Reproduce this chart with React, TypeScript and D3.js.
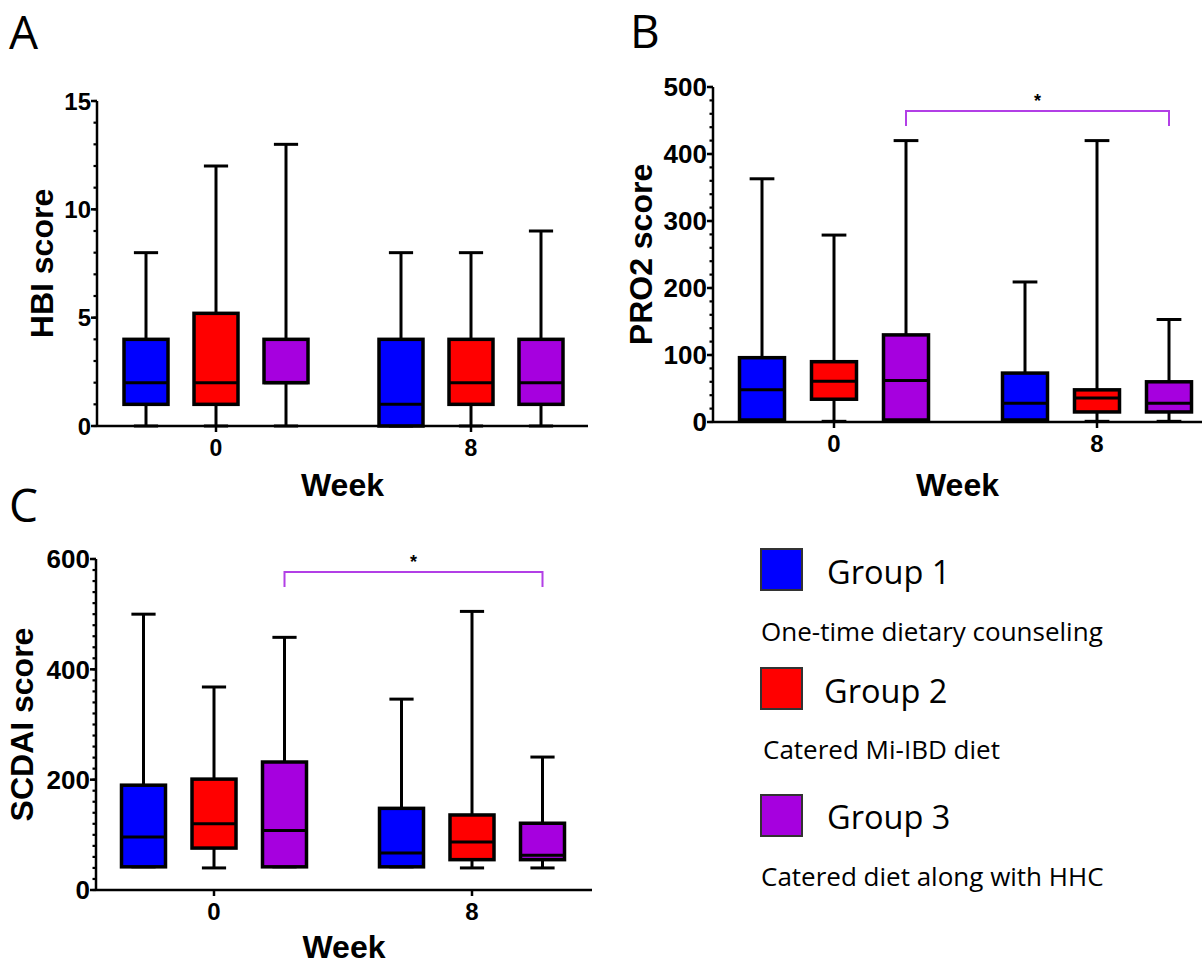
import React from "react";
import * as d3 from "d3";

// ---------- data ----------
const weeks = ["0", "8"];
const groups = ["Group 1", "Group 2", "Group 3"];
const groupColors = ["#0000FF", "#FF0000", "#A600DF"];
const groupDescriptions = [
  "One-time dietary counseling",
  "Catered Mi-IBD diet",
  "Catered diet along with HHC",
];

// order: week0 g1,g2,g3, week8 g1,g2,g3
const hbiMin = [0, 0, 0, 0, 0, 0];
const hbiQ1 = [1, 1, 2, 0, 1, 1];
const hbiMedian = [2, 2, 2, 1, 2, 2];
const hbiQ3 = [4, 5.2, 4, 4, 4, 4];
const hbiMax = [8, 12, 13, 8, 8, 9];
const hbiTicks = [0, 5, 10, 15];

const pro2Min = [3, 1, 3, 3, 1, 1];
const pro2Q1 = [3, 34, 3, 3, 15, 15];
const pro2Median = [48, 61, 62, 28, 36, 28];
const pro2Q3 = [96, 90, 130, 73, 48, 60];
const pro2Max = [363, 279, 420, 209, 420, 153];
const pro2Ticks = [0, 100, 200, 300, 400, 500];

const scdaiMin = [42, 40, 42, 42, 40, 40];
const scdaiQ1 = [42, 76, 42, 42, 55, 55];
const scdaiMedian = [96, 120, 108, 67, 87, 63];
const scdaiQ3 = [190, 201, 232, 148, 136, 121];
const scdaiMax = [500, 368, 458, 346, 505, 241];
const scdaiTicks = [0, 200, 400, 600];

// significance: [from index, to index, label]
const pro2Sig = [2, 5, "*"] as const;
const scdaiSig = [2, 5, "*"] as const;

const BOLD = "'Liberation Sans', Arial, sans-serif";
const SANS = "'Open Sans', 'Noto Sans', sans-serif";

type PanelProps = {
  letter: string;
  letterX: number;
  letterY: number;
  yLabel: string;
  yMax: number;
  majorTicks: number[];
  minorStep: number;
  mins: number[];
  q1s: number[];
  meds: number[];
  q3s: number[];
  maxs: number[];
  left: number;
  right: number;
  top: number;
  bottom: number;
  weekCenters: [number, number];
  groupSpacing: number;
  boxWidth: number;
  yLabelX: number;
  tickFont: number;
  xTickFont: number;
  weekBaseline: number;
  sig?: readonly [number, number, string];
  sigY?: number;
};

function Panel(p: PanelProps) {
  const y = d3.scaleLinear().domain([0, p.yMax]).range([p.bottom, p.top]);
  const xw = d3.scalePoint<string>().domain(weeks).range(p.weekCenters);
  const xg = d3
    .scaleBand<string>()
    .domain(groups)
    .range([-1.5 * p.groupSpacing, 1.5 * p.groupSpacing]);
  const cx = (i: number) => {
    const w = weeks[Math.floor(i / 3)];
    const g = groups[i % 3];
    return (xw(w) as number) + (xg(g) as number) + xg.bandwidth() / 2;
  };
  const minor = d3.range(0, p.yMax + 1e-9, p.minorStep);
  const capW = p.boxWidth * 0.55;
  const bw = p.boxWidth;
  const items = d3.range(6);
  return (
    <g>
      <text x={p.letterX} y={p.letterY} fontFamily={SANS} fontSize={46} fill="#000">
        {p.letter}
      </text>
      {/* boxes */}
      {items.map((i) => {
        const c = cx(i);
        return (
          <g key={i}>
            <line x1={c} x2={c} y1={y(p.maxs[i])} y2={y(p.q3s[i])} stroke="#000" strokeWidth={3} />
            <line x1={c} x2={c} y1={y(p.q1s[i])} y2={y(p.mins[i])} stroke="#000" strokeWidth={3} />
            <line x1={c - capW / 2} x2={c + capW / 2} y1={y(p.maxs[i])} y2={y(p.maxs[i])} stroke="#000" strokeWidth={3} />
            <line x1={c - capW / 2} x2={c + capW / 2} y1={y(p.mins[i])} y2={y(p.mins[i])} stroke="#000" strokeWidth={3} />
            <rect
              x={c - bw / 2}
              y={y(p.q3s[i])}
              width={bw}
              height={y(p.q1s[i]) - y(p.q3s[i])}
              fill={groupColors[i % 3]}
              stroke="#000"
              strokeWidth={3.5}
            />
            <line x1={c - bw / 2} x2={c + bw / 2} y1={y(p.meds[i])} y2={y(p.meds[i])} stroke="#000" strokeWidth={3} />
          </g>
        );
      })}
      {/* y axis */}
      <line x1={p.left} x2={p.left} y1={p.top} y2={p.bottom} stroke="#000" strokeWidth={2.5} />
      {minor.map((v) => (
        <line key={"m" + v} x1={p.left - 3.5} x2={p.left} y1={y(v)} y2={y(v)} stroke="#000" strokeWidth={2.2} />
      ))}
      {p.majorTicks.map((v) => (
        <g key={"t" + v}>
          <line x1={p.left - 6} x2={p.left} y1={y(v)} y2={y(v)} stroke="#000" strokeWidth={2.5} />
          <text
            x={p.left - 6}
            y={y(v)}
            dy="0.36em"
            textAnchor="end"
            fontFamily={BOLD}
            fontWeight="bold"
            fontSize={p.tickFont}
          >
            {v}
          </text>
        </g>
      ))}
      <text
        transform={`translate(${p.yLabelX},${(p.top + p.bottom) / 2}) rotate(-90)`}
        textAnchor="middle"
        fontFamily={BOLD}
        fontWeight="bold"
        fontSize={32}
      >
        {p.yLabel}
      </text>
      {/* x axis */}
      <line x1={p.left} x2={p.right} y1={p.bottom} y2={p.bottom} stroke="#000" strokeWidth={2.5} />
      {weeks.map((w) => (
        <g key={w}>
          <line x1={xw(w)} x2={xw(w)} y1={p.bottom} y2={p.bottom + 6} stroke="#000" strokeWidth={2.5} />
          <text
            x={xw(w)}
            y={p.bottom + 30}
            textAnchor="middle"
            fontFamily={BOLD}
            fontWeight="bold"
            fontSize={p.xTickFont}
          >
            {w}
          </text>
        </g>
      ))}
      <text
        x={(p.left + p.right) / 2}
        y={p.weekBaseline}
        textAnchor="middle"
        fontFamily={BOLD}
        fontWeight="bold"
        fontSize={32}
      >
        Week
      </text>
      {p.sig && p.sigY !== undefined && (
        <g>
          <path
            d={`M${cx(p.sig[0])},${p.sigY + 15}V${p.sigY}H${cx(p.sig[1])}V${p.sigY + 15}`}
            fill="none"
            stroke="#B23FE6"
            strokeWidth={2}
          />
          <text
            x={(cx(p.sig[0]) + cx(p.sig[1])) / 2}
            y={p.sigY - 4}
            textAnchor="middle"
            fontFamily={BOLD}
            fontWeight="bold"
            fontSize={18}
          >
            {p.sig[2]}
          </text>
        </g>
      )}
    </g>
  );
}

function Legend() {
  const squareTops = [549, 668, 795];
  const labelBaselines = [584, 703, 829];
  const descBaselines = [641, 759, 886];
  return (
    <g>
      {groups.map((g, i) => (
        <g key={g}>
          <rect
            x={761}
            y={squareTops[i]}
            width={41}
            height={41}
            fill={groupColors[i]}
            stroke="#333"
            strokeWidth={2}
          />
          <text x={i === 1 ? 824 : 827} y={labelBaselines[i]} fontFamily={SANS} fontSize={32.5}>
            {g}
          </text>
          <text x={i === 1 ? 763 : 761} y={descBaselines[i]} fontFamily={SANS} fontSize={26}>
            {groupDescriptions[i]}
          </text>
        </g>
      ))}
    </g>
  );
}

export default function App() {
  return (
    <svg
      width={1202}
      height={964}
      style={{ position: "absolute", left: 0, top: 0, background: "#fff" }}
    >
      <rect width={1202} height={964} fill="#fff" />
      <Panel
        letter="A"
        letterX={9}
        letterY={49}
        yLabel="HBI score"
        yMax={15}
        majorTicks={hbiTicks}
        minorStep={1}
        mins={hbiMin}
        q1s={hbiQ1}
        meds={hbiMedian}
        q3s={hbiQ3}
        maxs={hbiMax}
        left={97}
        right={588}
        top={101}
        bottom={426}
        weekCenters={[216, 471]}
        groupSpacing={70}
        boxWidth={44}
        yLabelX={53}
        tickFont={24}
        xTickFont={23}
        weekBaseline={496}
      />
      <Panel
        letter="B"
        letterX={630}
        letterY={48}
        yLabel="PRO2 score"
        yMax={500}
        majorTicks={pro2Ticks}
        minorStep={20}
        mins={pro2Min}
        q1s={pro2Q1}
        meds={pro2Median}
        q3s={pro2Q3}
        maxs={pro2Max}
        left={713}
        right={1202}
        top={87}
        bottom={422}
        weekCenters={[834, 1097]}
        groupSpacing={72}
        boxWidth={45}
        yLabelX={652}
        tickFont={26}
        xTickFont={24}
        weekBaseline={496}
        sig={pro2Sig}
        sigY={111}
      />
      <Panel
        letter="C"
        letterX={9}
        letterY={522}
        yLabel="SCDAI score"
        yMax={600}
        majorTicks={scdaiTicks}
        minorStep={20}
        mins={scdaiMin}
        q1s={scdaiQ1}
        meds={scdaiMedian}
        q3s={scdaiQ3}
        maxs={scdaiMax}
        left={96}
        right={592}
        top={559}
        bottom={890}
        weekCenters={[214, 472]}
        groupSpacing={70.5}
        boxWidth={44}
        yLabelX={33}
        tickFont={26}
        xTickFont={24}
        weekBaseline={958}
        sig={scdaiSig}
        sigY={572}
      />
      <Legend />
    </svg>
  );
}
